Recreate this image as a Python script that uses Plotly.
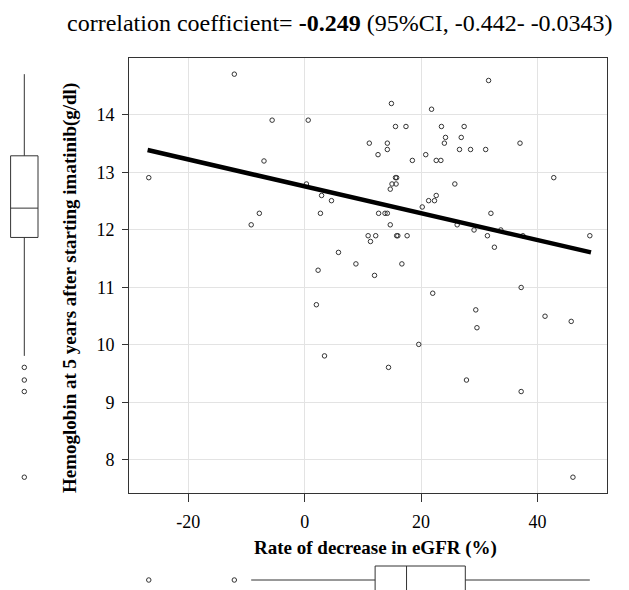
import plotly.graph_objects as go

# Rate of decrease in eGFR (%)
egfr = [-26.8, -12.1, -5.6, -7.0, -7.8, -9.2, 14.9, 21.8, 0.6, 15.6,
        17.4, 23.5, 24.2, 24.0, 11.1, 14.2, 14.2, 12.6, 20.8, 18.5,
        22.6, 23.4, 15.6, 15.8, 0.3, 15.0, 15.7, 14.7, 2.9, 4.6,
        20.2, 21.3, 22.3, 22.6, 2.7, 12.7, 13.8, 14.2, 14.7, 10.9,
        12.2, 15.8, 16.0, 17.6, 11.3, 5.8, 8.8, 16.7, 2.3, 12.0,
        22.0, 2.0, 19.6, 32.0, 26.2, 29.1, 33.7, 31.4, 37.5, 49.0,
        32.6, 37.2, 29.4, 41.3, 45.8, 29.6, 31.6, 27.4, 26.9, 37.0,
        26.6, 28.5, 31.1, 25.8, 42.8, 3.4, 14.4, 27.8, 37.2, 46.1]

# Hemoglobin at 5 years (g/dl)
hb = [12.91, 14.71, 13.91, 13.20, 12.29, 12.09, 14.20, 14.10, 13.91, 13.80,
      13.80, 13.80, 13.61, 13.51, 13.51, 13.51, 13.40, 13.31, 13.31, 13.21,
      13.21, 13.21, 12.91, 12.91, 12.80, 12.80, 12.80, 12.71, 12.60, 12.51,
      12.40, 12.51, 12.51, 12.60, 12.29, 12.29, 12.29, 12.29, 12.09, 11.90,
      11.90, 11.90, 11.90, 11.90, 11.80, 11.61, 11.41, 11.41, 11.30, 11.21,
      10.90, 10.70, 10.01, 12.29, 12.09, 12.00, 12.00, 11.90, 11.90, 11.90,
      11.70, 11.00, 10.61, 10.50, 10.41, 10.30, 14.60, 13.80, 13.61, 13.51,
      13.40, 13.40, 13.40, 12.80, 12.91, 9.81, 9.61, 9.39, 9.19, 7.70]

# Box statistics of hemoglobin as drawn in the left margin
hb_box_lowerfence = [9.81]
hb_box_q1 = [11.87]
hb_box_median = [12.38]
hb_box_q3 = [13.29]
hb_box_upperfence = [14.71]

# Regression line
fit_x = [-27.0, 49.2]
fit_y = [13.39, 11.61]

x_ticks = [-20, 0, 20, 40]
y_ticks = [8, 9, 10, 11, 12, 13, 14]

title_text = ("correlation coefficient= <b>-0.249</b> "
              "(95%CI, -0.442- -0.0343)")
x_title = "<b>Rate of decrease in eGFR (%)</b>"
y_title = "<b>Hemoglobin at 5 years after starting imatinib(g/dl)</b>"

FONT = "Liberation Serif, Times New Roman, serif"
W, H = 629, 590
OFF = 8  # page offset of the plot div
DARK = "#333333"


def px_x(p):
    return (p - OFF) / W


def px_y(p):
    return 1 - (p - OFF) / H


x_range = [-30.2, 51.9]
y_range = [7.42, 14.986]
x_dom = [px_x(129), px_x(606.7)]
y_dom = [px_y(493.3), px_y(58.3)]

mk = dict(symbol="circle-open", size=4.5, color=DARK,
          line=dict(width=1, color=DARK))

fig = go.Figure()

fig.add_trace(go.Scatter(
    x=egfr, y=hb, mode="markers", marker=mk,
    xaxis="x", yaxis="y", showlegend=False))

fig.add_trace(go.Scatter(
    x=fit_x, y=fit_y, mode="lines",
    line=dict(color="black", width=4.5),
    xaxis="x", yaxis="y", showlegend=False))

# Left box plot (hemoglobin)
fig.add_trace(go.Box(
    x=[0], y=[hb], q1=hb_box_q1, median=hb_box_median, q3=hb_box_q3,
    lowerfence=hb_box_lowerfence, upperfence=hb_box_upperfence,
    xaxis="x2", yaxis="y2", width=2.74,
    boxpoints="outliers", jitter=0, pointpos=0, whiskerwidth=0,
    marker=mk,
    line=dict(color=DARK, width=1), fillcolor="rgba(255,255,255,0)",
    showlegend=False))

# Bottom box plot (eGFR)
fig.add_trace(go.Box(
    x=egfr, y0=0, orientation="h", xaxis="x3", yaxis="y3", width=2.8,
    boxpoints="outliers", jitter=0, pointpos=0, whiskerwidth=0,
    quartilemethod="inclusive", marker=mk,
    line=dict(color=DARK, width=1), fillcolor="rgba(255,255,255,0)",
    showlegend=False))

hidden = dict(visible=False, showgrid=False, zeroline=False,
              showticklabels=False)

fig.update_layout(
    width=W, height=H,
    margin=dict(l=0, r=0, t=0, b=0),
    paper_bgcolor="white", plot_bgcolor="white",
    font=dict(family=FONT, size=18, color="black"),
    xaxis=dict(domain=x_dom, range=x_range, anchor="y",
               tickvals=x_ticks, ticktext=[str(v) for v in x_ticks],
               showgrid=True, gridcolor="#e3e3e3", gridwidth=1,
               zeroline=False, showline=True, mirror=True,
               linecolor=DARK, linewidth=1,
               ticks="outside", ticklen=8, tickcolor=DARK,
               ticklabelstandoff=4,
               tickfont=dict(family=FONT, size=18, color="black")),
    yaxis=dict(domain=y_dom, range=y_range, anchor="x",
               tickvals=y_ticks, ticktext=[str(v) for v in y_ticks],
               showgrid=True, gridcolor="#e3e3e3", gridwidth=1,
               zeroline=False, showline=True, mirror=True,
               linecolor=DARK, linewidth=1,
               ticks="outside", ticklen=6, tickcolor=DARK,
               ticklabelstandoff=4,
               tickfont=dict(family=FONT, size=18, color="black")),
    xaxis2=dict(domain=[0, 60 / W], range=[-1.63, 4.37], anchor="y2",
                **hidden),
    yaxis2=dict(domain=y_dom, range=y_range, anchor="x2", **hidden),
    xaxis3=dict(domain=x_dom, range=x_range, anchor="y3", **hidden),
    yaxis3=dict(domain=[0, 50 / H], range=[-1.8, 3.2], anchor="x3",
                **hidden),
    annotations=[
        dict(text=title_text, x=px_x(340), y=px_y(23), xref="paper",
             yref="paper", showarrow=False, xanchor="center",
             yanchor="middle", font=dict(family=FONT, size=24,
                                         color="black")),
        dict(text=x_title, x=px_x(375), y=px_y(548), xref="paper",
             yref="paper", showarrow=False, xanchor="center",
             yanchor="middle", font=dict(family=FONT, size=19,
                                         color="black")),
        dict(text=y_title, x=px_x(70), y=px_y(288), xref="paper",
             yref="paper", showarrow=False, xanchor="center",
             yanchor="middle", textangle=-90,
             font=dict(family=FONT, size=19, color="black")),
    ],
)

fig.write_html("out.html")
